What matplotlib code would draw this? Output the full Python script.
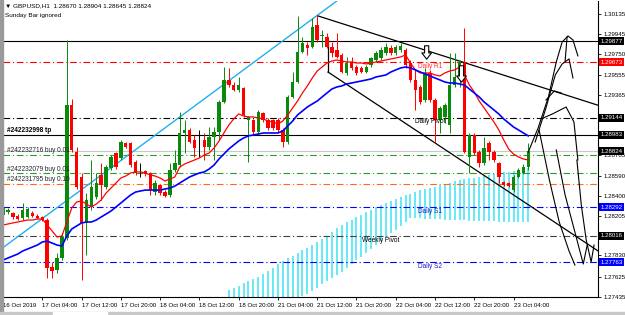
import numpy as np
import matplotlib.pyplot as plt
from matplotlib.patches import Rectangle
import matplotlib.transforms as mtransforms

plt.rcParams['font.family'] = ['Liberation Sans', 'DejaVu Sans']

# GBPUSD H1 bars, 16 Oct 20:00 .. 23 Oct 07:00 (Sunday bar ignored)
opens = [1.28216, 1.28245, 1.28235, 1.28206, 1.28187, 1.28197, 1.28235, 1.28206, 1.28197, 1.28168,
         1.27719, 1.27691, 1.27805, 1.27996, 1.29266, 1.28817, 1.28579, 1.28140, 1.28292, 1.28388,
         1.28598, 1.28483, 1.28665, 1.28808, 1.28760, 1.28903, 1.28903, 1.28722, 1.28627, 1.28636,
         1.28617, 1.28435, 1.28502, 1.28435, 1.28407, 1.28646, 1.28693, 1.28999, 1.29028, 1.28932,
         1.28875, 1.28932, 1.28865, 1.28961, 1.29008, 1.29295, 1.29505, 1.29457, 1.29410, 1.29429,
         1.29123, 1.29123, 1.29008, 1.29190, 1.29123, 1.29123, 1.29123, 1.29028, 1.28913, 1.29343,
         1.29486, 1.29772, 1.29839, 1.29820, 1.30030, 1.29925, 1.29916, 1.29820, 1.29792, 1.29744,
         1.29572, 1.29677, 1.29629, 1.29620, 1.29581, 1.29648, 1.29696, 1.29715, 1.29763, 1.29811,
         1.29763, 1.29792, 1.29792, 1.29667, 1.29505, 1.29438, 1.29314, 1.29572, 1.29314, 1.29123,
         1.29152, 1.29075, 1.29457, 1.29534, 1.29667, 1.28770, 1.28980, 1.28817, 1.28712, 1.28903,
         1.28817, 1.28712, 1.28531, 1.28521, 1.28454, 1.28579, 1.28617, 1.28670]
highs = [1.28311, 1.28283, 1.28245, 1.28225, 1.28330, 1.28292, 1.28254, 1.28225, 1.28206, 1.28187,
         1.27767, 1.27853, 1.28044, 1.29887, 1.29324, 1.28865, 1.28617, 1.28426, 1.28741, 1.28617,
         1.28712, 1.28693, 1.28789, 1.28817, 1.28932, 1.28913, 1.28913, 1.28741, 1.28712, 1.28646,
         1.28627, 1.28550, 1.28512, 1.28454, 1.28712, 1.28837, 1.29199, 1.29123, 1.29047, 1.28980,
         1.29028, 1.28999, 1.29056, 1.29056, 1.29314, 1.29629, 1.29620, 1.29486, 1.29534, 1.29438,
         1.29161, 1.29133, 1.29219, 1.29199, 1.29142, 1.29133, 1.29142, 1.29047, 1.29362, 1.29581,
         1.30116, 1.29916, 1.29868, 1.30097, 1.30126, 1.29983, 1.29954, 1.29868, 1.29954, 1.29763,
         1.29725, 1.29725, 1.29648, 1.29639, 1.29648, 1.29725, 1.29782, 1.29820, 1.29858, 1.29839,
         1.29839, 1.29858, 1.29811, 1.29696, 1.29601, 1.29457, 1.29620, 1.29601, 1.29333, 1.29257,
         1.29285, 1.29763, 1.29763, 1.29696, 1.30002, 1.28999, 1.28999, 1.28837, 1.28961, 1.28922,
         1.28837, 1.28722, 1.28540, 1.28531, 1.28598, 1.28665, 1.28703, 1.28904]
lows = [1.28197, 1.28225, 1.28178, 1.28168, 1.28168, 1.28187, 1.28197, 1.28178, 1.28159, 1.27614,
        1.27614, 1.27662, 1.27786, 1.27977, 1.28817, 1.28464, 1.27595, 1.27834, 1.28264, 1.28369,
        1.28359, 1.28464, 1.28646, 1.28655, 1.28741, 1.28856, 1.28674, 1.28598, 1.28579, 1.28588,
        1.28407, 1.28407, 1.28407, 1.28388, 1.28388, 1.28627, 1.28674, 1.28808, 1.28903, 1.28770,
        1.28770, 1.28741, 1.28837, 1.28741, 1.28932, 1.29285, 1.29438, 1.29400, 1.29390, 1.29152,
        1.28722, 1.28980, 1.28989, 1.29104, 1.29028, 1.29028, 1.29008, 1.28865, 1.28894, 1.29333,
        1.29476, 1.29763, 1.29744, 1.29811, 1.29868, 1.29820, 1.29811, 1.29725, 1.29715, 1.29572,
        1.29553, 1.29601, 1.29553, 1.29572, 1.29572, 1.29629, 1.29677, 1.29696, 1.29744, 1.29744,
        1.29744, 1.29772, 1.29620, 1.29486, 1.29219, 1.29276, 1.29295, 1.29295, 1.28913, 1.28999,
        1.29094, 1.28999, 1.29438, 1.29438, 1.28808, 1.28617, 1.28789, 1.28674, 1.28693, 1.28741,
        1.28722, 1.28521, 1.28492, 1.28483, 1.28435, 1.28569, 1.28607, 1.28645]
closes = [1.28283, 1.28264, 1.28197, 1.28178, 1.28264, 1.28273, 1.28206, 1.28187, 1.28168, 1.27710,
          1.27681, 1.27805, 1.28006, 1.29266, 1.28837, 1.28483, 1.28140, 1.28359, 1.28483, 1.28521,
          1.28502, 1.28674, 1.28770, 1.28674, 1.28913, 1.28865, 1.28693, 1.28617, 1.28627, 1.28607,
          1.28454, 1.28521, 1.28426, 1.28397, 1.28646, 1.28712, 1.28999, 1.29028, 1.28913, 1.28856,
          1.28875, 1.28865, 1.28961, 1.29008, 1.29295, 1.29505, 1.29457, 1.29410, 1.29457, 1.29171,
          1.29152, 1.29008, 1.29199, 1.29123, 1.29047, 1.29047, 1.29028, 1.28913, 1.29343, 1.29486,
          1.29772, 1.29858, 1.29811, 1.30011, 1.29887, 1.29935, 1.29820, 1.29763, 1.29725, 1.29581,
          1.29667, 1.29620, 1.29572, 1.29581, 1.29629, 1.29715, 1.29763, 1.29792, 1.29820, 1.29763,
          1.29820, 1.29830, 1.29648, 1.29505, 1.29410, 1.29295, 1.29572, 1.29314, 1.29123, 1.29238,
          1.29266, 1.29457, 1.29534, 1.29677, 1.28817, 1.28980, 1.28808, 1.28712, 1.28856, 1.28817,
          1.28741, 1.28579, 1.28502, 1.28492, 1.28579, 1.28646, 1.28674, 1.28824]

# moving averages (red = fast, blue = slow)
ma_fast = [1.28120, 1.28130, 1.28140, 1.28149, 1.28159, 1.28168, 1.28168, 1.28178, 1.28178, 1.28120,
           1.28063, 1.28006, 1.28015, 1.28149, 1.28283, 1.28340, 1.28350, 1.28321, 1.28292, 1.28321,
           1.28359, 1.28426, 1.28473, 1.28521, 1.28569, 1.28588, 1.28617, 1.28627, 1.28627, 1.28617,
           1.28598, 1.28588, 1.28569, 1.28540, 1.28560, 1.28579, 1.28674, 1.28703, 1.28722, 1.28741,
           1.28760, 1.28789, 1.28808, 1.28856, 1.28922, 1.28999, 1.29075, 1.29133, 1.29180, 1.29161,
           1.29152, 1.29152, 1.29142, 1.29133, 1.29113, 1.29104, 1.29085, 1.29113, 1.29171, 1.29238,
           1.29304, 1.29381, 1.29448, 1.29524, 1.29591, 1.29629, 1.29667, 1.29686, 1.29696, 1.29686,
           1.29677, 1.29677, 1.29667, 1.29667, 1.29658, 1.29667, 1.29677, 1.29686, 1.29696, 1.29706,
           1.29715, 1.29725, 1.29744, 1.29667, 1.29601, 1.29572, 1.29572, 1.29572, 1.29553, 1.29543,
           1.29572, 1.29591, 1.29601, 1.29629, 1.29553, 1.29457, 1.29390, 1.29304, 1.29238, 1.29171,
           1.29104, 1.29028, 1.28932, 1.28846, 1.28798, 1.28770, 1.28751, 1.28741]
ma_slow = [1.27786, 1.27805, 1.27824, 1.27843, 1.27872, 1.27891, 1.27910, 1.27929, 1.27958, 1.27967,
           1.27948, 1.27929, 1.27920, 1.28015, 1.28082, 1.28111, 1.28140, 1.28149, 1.28149, 1.28168,
           1.28197, 1.28225, 1.28254, 1.28292, 1.28330, 1.28369, 1.28407, 1.28435, 1.28445, 1.28454,
           1.28454, 1.28454, 1.28454, 1.28464, 1.28473, 1.28492, 1.28521, 1.28550, 1.28579, 1.28598,
           1.28617, 1.28627, 1.28655, 1.28693, 1.28751, 1.28798, 1.28846, 1.28884, 1.28922, 1.28951,
           1.28971, 1.28980, 1.28989, 1.28999, 1.28999, 1.28999, 1.28999, 1.29018, 1.29066, 1.29113,
           1.29171, 1.29209, 1.29247, 1.29276, 1.29304, 1.29343, 1.29381, 1.29419, 1.29438, 1.29448,
           1.29467, 1.29476, 1.29486, 1.29495, 1.29505, 1.29515, 1.29534, 1.29543, 1.29553, 1.29581,
           1.29601, 1.29620, 1.29629, 1.29620, 1.29601, 1.29581, 1.29562, 1.29543, 1.29524, 1.29505,
           1.29486, 1.29476, 1.29476, 1.29467, 1.29457, 1.29419, 1.29381, 1.29343, 1.29295, 1.29257,
           1.29219, 1.29180, 1.29133, 1.29094, 1.29056, 1.29028, 1.28999, 1.28971]

# cyan histogram indicator, bars 46..107
hist_first_bar = 46
hist_top = [1.27500, 1.27519, 1.27538, 1.27566, 1.27586, 1.27605, 1.27624, 1.27652, 1.27681, 1.27710,
            1.27748, 1.27776, 1.27805, 1.27824, 1.27853, 1.27882, 1.27901, 1.27929, 1.27958, 1.27987,
            1.28015, 1.28053, 1.28092, 1.28120, 1.28149, 1.28168, 1.28197, 1.28216, 1.28245, 1.28264,
            1.28292, 1.28311, 1.28330, 1.28350, 1.28369, 1.28388, 1.28407, 1.28416, 1.28435, 1.28454,
            1.28464, 1.28473, 1.28483, 1.28502, 1.28512, 1.28521, 1.28540, 1.28550, 1.28560, 1.28569,
            1.28569, 1.28579, 1.28588, 1.28598, 1.28607, 1.28617, 1.28627, 1.28627, 1.28636, 1.28646,
            1.28655, 1.28665]
hist_bottom = [1.2743] * 15 + [
            1.27442, 1.27461, 1.27490, 1.27519, 1.27557, 1.27586, 1.27614, 1.27643, 1.27672, 1.27710,
            1.27748, 1.27786, 1.27815, 1.27853, 1.27891, 1.27929, 1.27967, 1.28006, 1.28044, 1.28073,
            1.28111, 1.28149,
            1.28187, 1.28187, 1.28187, 1.28178, 1.28178, 1.28178, 1.28178, 1.28168, 1.28168, 1.28168,
            1.28168, 1.28168, 1.28159, 1.28159, 1.28159, 1.28159, 1.28159, 1.28159, 1.28149, 1.28149,
            1.28149, 1.28149, 1.28149, 1.28149, 1.28149]

time_label_bars = [0, 8, 16, 24, 32, 40, 48, 56, 64, 72, 80, 88, 96, 104]
time_labels = ['16 Oct 2019', '17 Oct 04:00', '17 Oct 12:00', '17 Oct 20:00', '18 Oct 04:00',
               '18 Oct 12:00', '18 Oct 20:00', '21 Oct 04:00', '21 Oct 12:00', '21 Oct 20:00',
               '22 Oct 04:00', '22 Oct 12:00', '22 Oct 20:00', '23 Oct 04:00']
price_ticks = [1.30135, 1.29945, 1.29750, 1.29555, 1.29365, 1.28785, 1.28590, 1.28400,
               1.28205, 1.27830, 1.27625, 1.27435]

# horizontal levels: price, colour, solid?
level_prices = [1.29877, 1.29673, 1.29144, 1.28983, 1.28824, 1.28790, 1.28617, 1.28515,
                1.28292, 1.28016, 1.27763]
level_colors = ['black', '#ff0000', 'black', 'black', '#c8c8c8', '#2a9a2a', '#2a9a2a', '#ff6a1a',
                '#0000ff', '#404040', '#0000ff']
level_solid = [True, False, False, True, True, False, False, False, False, False, False]

# price boxes on the right scale
box_prices = [1.29877, 1.29673, 1.29144, 1.28983, 1.28824, 1.28292, 1.28016, 1.27763]
box_colors = ['black', '#ff0000', 'black', 'black', 'black', '#0000ff', 'black', '#0000ff']

# level captions: text, bar, price, colour, above line?
captions = [('Daily R1', 84.6, 1.29673, '#ff3030', False),
            ('Daily Pivot', 84.0, 1.29144, 'black', False),
            ('Daily S1', 84.6, 1.28292, '#2020c0', False),
            ('Weekly Pivot', 73.2, 1.28016, 'black', False),
            ('Daily S2', 84.6, 1.27763, '#2020c0', False),
            ('#242232998 tp', 0.9, 1.28983, 'black', True),
            ('#242232716 buy 0.01', 0.9, 1.28790, '#222222', True),
            ('#242232079 buy 0.01', 0.9, 1.28617, '#222222', True),
            ('#242231795 buy 0.10', 0.9, 1.28515, '#222222', True)]

# drawn objects (bar, price)
sky_line = [(-0.1, 1.27901), (64.4, 1.30135)]
chan_upper = [(64.2, 1.30116), (125.0, 1.29207)]
chan_lower = [(66.2, 1.29581), (125.0, 1.27755)]
chan_stub = [(66.2, 1.29887), (66.2, 1.29581)]
down_arrows = [(86.3, 1.29858, 1.29677), (93.4, 1.29667, 1.29457)]
sketch_paths = [
    [(107.0, 1.28817), (109.0, 1.29047), (111.1, 1.29343), (112.7, 1.29677), (113.9, 1.29868),
     (115.1, 1.29925), (116.1, 1.29887), (117.1, 1.29735)],
    [(114.9, 1.29916), (114.5, 1.29686)],
    [(108.4, 1.28913), (110.6, 1.29238), (112.5, 1.29553), (113.9, 1.29658), (115.3, 1.29706),
     (116.1, 1.29524)],
    [(110.6, 1.29314), (112.3, 1.29400), (113.7, 1.29381)],
    [(109.6, 1.29133), (111.9, 1.29180), (114.7, 1.29247), (116.3, 1.29104), (117.1, 1.28741)],
    [(109.2, 1.29028), (111.3, 1.28550), (113.3, 1.28149), (115.3, 1.27872), (116.5, 1.27738)],
    [(112.7, 1.28837), (114.5, 1.28407), (116.7, 1.28016), (118.2, 1.27748), (119.0, 1.27929)],
    [(116.9, 1.28741), (117.8, 1.28311), (118.8, 1.27977), (119.8, 1.27767), (120.4, 1.27929)],
]

W, H = 625, 315
fig = plt.figure(figsize=(W / 100, H / 100), dpi=100)
ax = fig.add_axes([3 / W, 18 / H, 595 / W, 296 / H])
ax.set_xlim(0.507, 121.2)
ax.set_ylim(1.27433, 1.30259)

idx = np.arange(len(opens))
o = np.array(opens); c = np.array(closes)
hi = np.array(highs); lo = np.array(lows)

# histogram
hb = np.arange(hist_first_bar, hist_first_bar + len(hist_top))
ax.vlines(hb, hist_bottom, hist_top, color='#3fe3f5', lw=1.1, zorder=1)

# levels
for p, col, solid in zip(level_prices, level_colors, level_solid):
    ls = '-' if solid else (0, (6, 2.5, 1, 2.5))
    ax.axhline(p, color=col, lw=0.8, ls=ls, zorder=2)

for txt, b, p, col, above in captions:
    off = 0.00004 if above else -0.00006
    ax.text(b, p + off, txt, fontsize=4.7, color=col, va='bottom' if above else 'top',
            ha='left', zorder=6,
            fontweight='bold' if txt.endswith('tp') else 'normal')

# trend lines
ax.axline(sky_line[0], sky_line[1], color='#1fb0ee', lw=1.0, zorder=3)
for seg in (chan_upper, chan_lower, chan_stub):
    xs, ys = zip(*seg)
    ax.plot(xs, ys, color='black', lw=0.9, zorder=3)

# candles
up = c > o
down = c < o
col = np.where(up, '#0a8a0a', np.where(down, '#ff0000', 'black'))
ax.vlines(idx, lo, hi, colors=col, lw=0.7, zorder=4)
body = np.where(np.abs(c - o) < 1e-6, 0.00003, c - o)
ax.bar(idx, body, bottom=o, width=0.7, color=col, lw=0, zorder=4)

# moving averages
ax.plot(idx, ma_fast, color='#ff0000', lw=0.9, zorder=5)
ax.plot(idx, ma_slow, color='#0000ff', lw=1.2, zorder=5)

# hollow arrows
for b, p0, p1 in down_arrows:
    ax.annotate('', xy=(b, p1), xytext=(b, p0),
                arrowprops=dict(arrowstyle='simple,head_length=0.45,head_width=0.7,tail_width=0.3',
                                fc='white', ec='black', lw=0.8), zorder=7)

# sketched scenarios on the right
for path in sketch_paths:
    xs, ys = zip(*path)
    ax.plot(xs, ys, color='black', lw=0.8, zorder=6)

# axes styling
for s in ('top', 'left'):
    ax.spines[s].set_visible(False)
for s in ('right', 'bottom'):
    ax.spines[s].set_color('black')
    ax.spines[s].set_linewidth(0.8)

ax.yaxis.tick_right()
ax.set_yticks(price_ticks)
ax.set_yticklabels(['%.5f' % p for p in price_ticks])
ax.tick_params(axis='y', length=2.5, width=0.6, pad=1.5, labelsize=4.4)
ax.set_xticks(time_label_bars)
ax.set_xticklabels(time_labels, ha='left')
ax.tick_params(axis='x', length=2.5, width=0.6, pad=1.5, labelsize=4.4)

trans = mtransforms.offset_copy(ax.get_yaxis_transform(), fig=fig, x=1.5, y=0, units='points')
for p, bc in zip(box_prices, box_colors):
    ax.text(1.0, p, '%.5f' % p, transform=trans, fontsize=4.4, color='white', va='center',
            ha='left', zorder=8, clip_on=False,
            bbox=dict(boxstyle='square,pad=0.25', fc=bc, ec='none'))

# header
fig.text(5 / W, 1 - 6 / H, '\u25bc GBPUSD,H1  1.28670 1.28904 1.28645 1.28824',
         fontsize=4.6, va='center', ha='left')
fig.text(5 / W, 1 - 15 / H, 'Sunday Bar ignored', fontsize=4.6, va='center', ha='left')

# window frame bits
fig.patches.append(Rectangle((0, 0), 2.5 / W, 1, transform=fig.transFigure, color='#9a9a9a'))
fig.patches.append(Rectangle((0, 0), 1, 3.5 / H, transform=fig.transFigure, color='#c8c8c8'))
fig.patches.append(Rectangle((53 / W, 0), 54 / W, 3.5 / H, transform=fig.transFigure, color='white'))

fig.savefig('out.png', dpi=100)
